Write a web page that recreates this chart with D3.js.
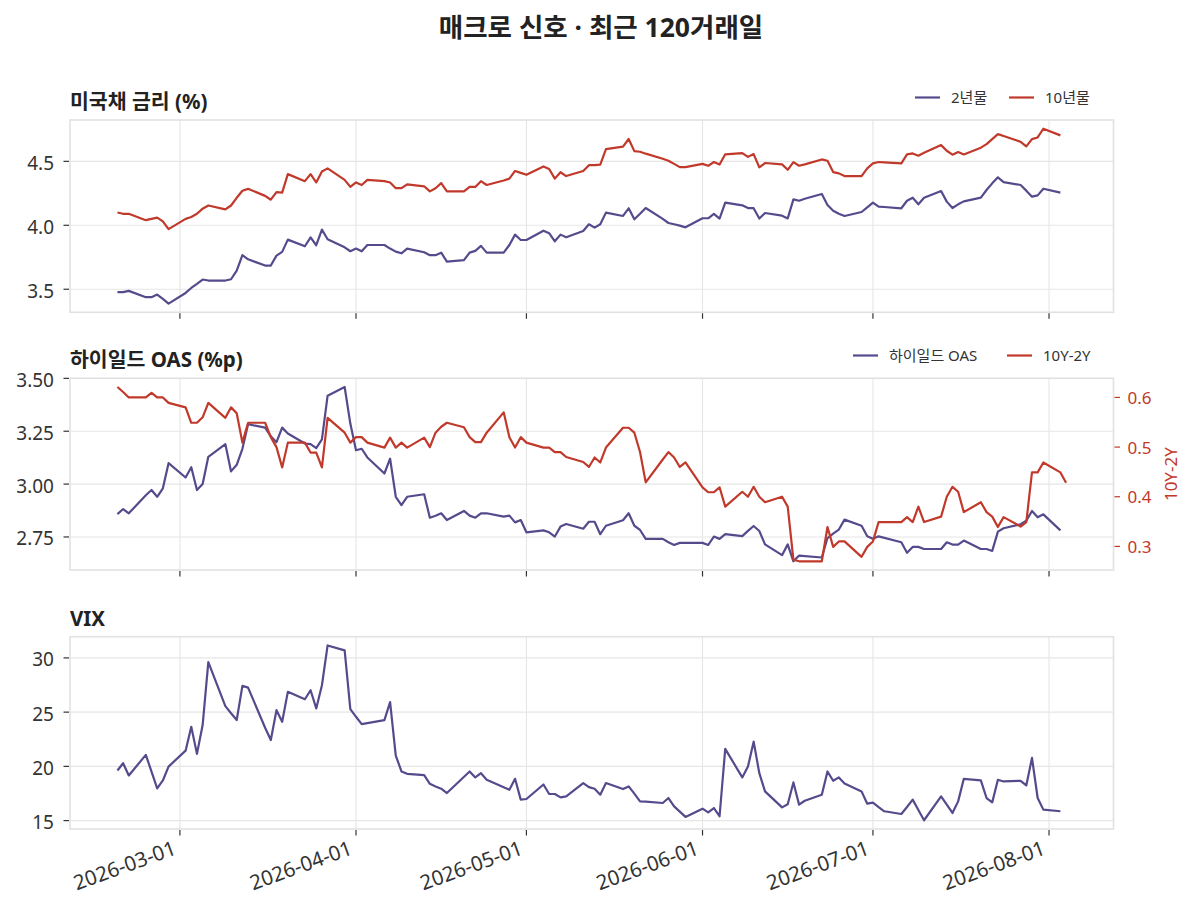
<!DOCTYPE html>
<html><head><meta charset="utf-8">
<script src="https://cdn.jsdelivr.net/npm/d3@7"></script>
<style>
body{margin:0;background:#fff}
svg{display:block}
text{font-family:"Noto Sans","Noto Sans CJK KR",sans-serif}
</style>
</head><body>
<svg id="c" width="1192" height="914"></svg>
<script>
// ---------- data ----------
const ust2y = [
["02-18",3.477],["02-19",3.477],["02-20",3.487],["02-23",3.438],["02-24",3.438],["02-25",3.458],["02-26",3.424],["02-27",3.388],
["03-02",3.471],["03-03",3.51],["03-04",3.542],["03-05",3.576],["03-06",3.568],["03-09",3.568],["03-10",3.578],["03-11",3.646],["03-12",3.766],["03-13",3.734],
["03-16",3.685],["03-17",3.685],["03-18",3.763],["03-19",3.792],["03-20",3.888],["03-23",3.836],["03-24",3.906],["03-25",3.844],["03-26",3.966],["03-27",3.891],
["03-30",3.828],["03-31",3.797],["04-01",3.818],["04-02",3.797],["04-03",3.846],["04-06",3.846],["04-07",3.818],["04-08",3.794],["04-09",3.781],["04-10",3.818],
["04-13",3.789],["04-14",3.766],["04-15",3.766],["04-16",3.786],["04-17",3.716],["04-20",3.727],["04-21",3.786],["04-22",3.80],["04-23",3.839],["04-24",3.786],
["04-27",3.786],["04-28",3.846],["04-29",3.927],["04-30",3.885],["05-01",3.885],["05-04",3.958],["05-05",3.938],["05-06",3.875],["05-07",3.927],["05-08",3.906],
["05-11",3.956],["05-12",4.008],["05-13",3.982],["05-14",4.008],["05-15",4.099],["05-18",4.073],["05-19",4.133],["05-20",4.047],["05-21",4.09],["05-22",4.135],
["05-25",4.05],["05-26",4.018],["05-27",4.008],["05-28",3.997],["05-29",3.984],["06-01",4.055],["06-02",4.055],["06-03",4.089],["06-04",4.052],["06-05",4.177],
["06-08",4.156],["06-09",4.135],["06-10",4.134],["06-11",4.053],["06-12",4.096],["06-15",4.075],["06-16",4.054],["06-17",4.203],["06-18",4.192],["06-19",4.208],
["06-22",4.245],["06-23",4.159],["06-24",4.114],["06-25",4.09],["06-26",4.073],["06-29",4.104],["06-30",4.14],["07-01",4.177],["07-02",4.146],["07-03",4.143],
["07-06",4.133],["07-07",4.192],["07-08",4.216],["07-09",4.164],["07-10",4.216],["07-13",4.268],["07-14",4.185],["07-15",4.135],["07-16",4.164],["07-17",4.187],
["07-20",4.216],["07-21",4.276],["07-22",4.328],["07-23",4.375],["07-24",4.338],["07-27",4.315],["07-28",4.271],["07-29",4.224],["07-30",4.234],["07-31",4.286],["08-03",4.255]
];
const ust10y = [
["02-18",4.10],["02-19",4.09],["02-20",4.09],["02-23",4.04],["02-24",4.05],["02-25",4.06],["02-26",4.03],["02-27",3.97],
["03-02",4.05],["03-03",4.065],["03-04",4.09],["03-05",4.13],["03-06",4.155],["03-09",4.125],["03-10",4.155],["03-11",4.215],["03-12",4.27],["03-13",4.285],
["03-16",4.23],["03-17",4.20],["03-18",4.26],["03-19",4.255],["03-20",4.40],["03-23",4.345],["03-24",4.40],["03-25",4.335],["03-26",4.42],["03-27",4.445],
["03-30",4.355],["03-31",4.30],["04-01",4.335],["04-02",4.315],["04-03",4.355],["04-06",4.345],["04-07",4.335],["04-08",4.29],["04-09",4.29],["04-10",4.32],
["04-13",4.305],["04-14",4.265],["04-15",4.29],["04-16",4.33],["04-17",4.265],["04-20",4.265],["04-21",4.30],["04-22",4.30],["04-23",4.345],["04-24",4.315],
["04-27",4.35],["04-28",4.365],["04-29",4.425],["04-30",4.41],["05-01",4.395],["05-04",4.46],["05-05",4.44],["05-06",4.365],["05-07",4.415],["05-08",4.385],
["05-11",4.425],["05-12",4.47],["05-13",4.47],["05-14",4.475],["05-15",4.595],["05-18",4.615],["05-19",4.675],["05-20",4.58],["05-21",4.575],["05-22",4.56],
["05-25",4.52],["05-26",4.505],["05-27",4.48],["05-28",4.455],["05-29",4.455],["06-01",4.48],["06-02",4.465],["06-03",4.495],["06-04",4.475],["06-05",4.555],
["06-08",4.565],["06-09",4.535],["06-10",4.557],["06-11",4.453],["06-12",4.487],["06-15",4.476],["06-16",4.434],["06-17",4.494],["06-18",4.466],["06-19",4.476],
["06-22",4.515],["06-23",4.505],["06-24",4.416],["06-25",4.406],["06-26",4.385],["06-29",4.385],["06-30",4.445],["07-01",4.484],["07-02",4.495],["07-03",4.492],
["07-06",4.484],["07-07",4.554],["07-08",4.562],["07-09",4.544],["07-10",4.567],["07-13",4.627],["07-14",4.583],["07-15",4.552],["07-16",4.573],["07-17",4.554],
["07-20",4.607],["07-21",4.635],["07-22",4.674],["07-23",4.713],["07-24",4.698],["07-27",4.653],["07-28",4.617],["07-29",4.674],["07-30",4.687],["07-31",4.755],["08-03",4.703]
];
const hyOAS = [
["02-18",2.858],["02-19",2.882],["02-20",2.862],["02-23",2.947],["02-24",2.972],["02-25",2.94],["02-26",2.98],["02-27",3.099],
["03-02",3.031],["03-03",3.08],["03-04",2.972],["03-05",3.0],["03-06",3.129],["03-09",3.189],["03-10",3.06],["03-11",3.091],["03-12",3.167],["03-13",3.283],
["03-16",3.267],["03-17",3.226],["03-18",3.198],["03-19",3.267],["03-20",3.239],["03-23",3.192],["03-24",3.189],["03-25",3.17],["03-26",3.211],["03-27",3.418],
["03-30",3.459],["03-31",3.286],["04-01",3.16],["04-02",3.167],["04-03",3.126],["04-06",3.05],["04-07",3.12],["04-08",2.94],["04-09",2.901],["04-10",2.94],
["04-13",2.952],["04-14",2.841],["04-15",2.85],["04-16",2.862],["04-17",2.83],["04-20",2.873],["04-21",2.851],["04-22",2.841],["04-23",2.862],["04-24",2.862],
["04-27",2.846],["04-28",2.851],["04-29",2.819],["04-30",2.83],["05-01",2.772],["05-04",2.781],["05-05",2.772],["05-06",2.752],["05-07",2.799],["05-08",2.811],
["05-11",2.789],["05-12",2.822],["05-13",2.822],["05-14",2.763],["05-15",2.803],["05-18",2.829],["05-19",2.862],["05-20",2.803],["05-21",2.783],["05-22",2.741],
["05-25",2.741],["05-26",2.725],["05-27",2.712],["05-28",2.722],["05-29",2.722],["06-01",2.722],["06-02",2.712],["06-03",2.752],["06-04",2.741],["06-05",2.763],
["06-08",2.754],["06-09",2.779],["06-10",2.802],["06-11",2.778],["06-12",2.715],["06-15",2.664],["06-16",2.715],["06-17",2.635],["06-18",2.662],
["06-22",2.653],["06-23",2.745],["06-24",2.766],["06-25",2.785],["06-26",2.832],["06-29",2.803],["06-30",2.753],["07-01",2.741],["07-02",2.753],
["07-06",2.725],["07-07",2.675],["07-08",2.703],["07-09",2.703],["07-10",2.693],["07-13",2.693],["07-14",2.725],["07-15",2.714],["07-16",2.714],["07-17",2.733],
["07-20",2.693],["07-21",2.693],["07-22",2.684],["07-23",2.775],["07-24",2.791],["07-27",2.81],["07-28",2.827],["07-29",2.873],["07-30",2.843],["07-31",2.857],["08-03",2.781]
];
const spread = [
["02-18",0.621],["02-19",0.611],["02-20",0.60],["02-23",0.60],["02-24",0.609],["02-25",0.60],["02-26",0.60],["02-27",0.589],
["03-02",0.58],["03-03",0.549],["03-04",0.549],["03-05",0.56],["03-06",0.589],["03-09",0.559],["03-10",0.58],["03-11",0.568],["03-12",0.509],["03-13",0.549],
["03-16",0.549],["03-17",0.52],["03-18",0.50],["03-19",0.459],["03-20",0.509],["03-23",0.509],["03-24",0.489],["03-25",0.489],["03-26",0.459],["03-27",0.559],
["03-30",0.529],["03-31",0.509],["04-01",0.52],["04-02",0.52],["04-03",0.509],["04-06",0.499],["04-07",0.519],["04-08",0.499],["04-09",0.509],["04-10",0.499],
["04-13",0.519],["04-14",0.50],["04-15",0.529],["04-16",0.541],["04-17",0.549],["04-20",0.54],["04-21",0.52],["04-22",0.51],["04-23",0.51],["04-24",0.529],
["04-27",0.57],["04-28",0.52],["04-29",0.499],["04-30",0.52],["05-01",0.509],["05-04",0.499],["05-05",0.499],["05-06",0.49],["05-07",0.49],["05-08",0.48],
["05-11",0.47],["05-12",0.46],["05-13",0.479],["05-14",0.469],["05-15",0.499],["05-18",0.539],["05-19",0.539],["05-20",0.529],["05-21",0.49],["05-22",0.429],
["05-25",0.475],["05-26",0.49],["05-27",0.479],["05-28",0.46],["05-29",0.469],["06-01",0.419],["06-02",0.409],["06-03",0.409],["06-04",0.419],["06-05",0.38],
["06-08",0.41],["06-09",0.40],["06-10",0.42],["06-11",0.40],["06-12",0.389],["06-15",0.40],["06-16",0.38],["06-17",0.273],["06-18",0.27],
["06-22",0.27],["06-23",0.339],["06-24",0.299],["06-25",0.31],["06-26",0.31],["06-29",0.279],["06-30",0.299],["07-01",0.31],["07-02",0.349],
["07-06",0.349],["07-07",0.359],["07-08",0.349],["07-09",0.38],["07-10",0.349],["07-13",0.36],["07-14",0.40],["07-15",0.42],["07-16",0.41],["07-17",0.369],
["07-20",0.389],["07-21",0.369],["07-22",0.36],["07-23",0.339],["07-24",0.359],["07-27",0.34],["07-28",0.349],["07-29",0.449],["07-30",0.449],["07-31",0.469],
["08-03",0.449],["08-04",0.428]
];
const vix = [
["02-18",19.62],["02-19",20.29],["02-20",19.16],["02-23",21.06],["02-25",17.97],["02-26",18.7],["02-27",19.98],
["03-02",21.45],["03-03",23.65],["03-04",21.15],["03-05",23.81],["03-06",29.62],["03-09",25.55],["03-10",24.9],["03-11",24.27],["03-12",27.42],["03-13",27.26],
["03-16",23.56],["03-17",22.43],["03-18",25.18],["03-19",24.11],["03-20",26.87],["03-23",26.19],["03-24",27.02],["03-25",25.34],["03-26",27.48],["03-27",31.15],
["03-30",30.69],["03-31",25.28],["04-01",24.57],["04-02",23.9],["04-06",24.27],["04-07",25.92],["04-08",21.0],["04-09",19.53],["04-10",19.31],
["04-13",19.19],["04-14",18.39],["04-15",18.15],["04-16",17.94],["04-17",17.54],["04-21",19.53],["04-22",18.98],["04-23",19.37],["04-24",18.76],
["04-28",17.84],["04-29",18.85],["04-30",16.93],["05-01",16.99],["05-04",18.33],["05-05",17.45],["05-06",17.45],["05-07",17.14],["05-08",17.23],
["05-11",18.46],["05-12",18.09],["05-13",17.94],["05-14",17.39],["05-15",18.46],["05-18",17.91],["05-19",18.15],["05-20",17.48],["05-21",16.77],["05-22",16.75],
["05-25",16.62],["05-26",17.08],["05-27",16.31],["05-28",15.83],["05-29",15.34],["06-01",16.1],["06-02",15.76],["06-03",16.16],["06-04",15.4],["06-05",21.61],
["06-08",18.98],["06-09",19.98],["06-10",22.28],["06-11",19.37],["06-12",17.69],["06-15",16.22],["06-16",16.5],["06-17",18.52],["06-18",16.47],["06-19",16.83],
["06-22",17.39],["06-23",19.53],["06-24",18.67],["06-25",18.98],["06-26",18.43],["06-29",17.69],["06-30",16.56],["07-01",16.65],["07-02",16.25],["07-03",15.86],
["07-06",15.61],["07-07",16.25],["07-08",16.93],["07-09",15.98],["07-10",15.03],["07-13",17.23],["07-14",16.47],["07-15",15.7],["07-16",16.77],["07-17",18.85],
["07-20",18.7],["07-21",17.08],["07-22",16.68],["07-23",18.76],["07-24",18.61],["07-27",18.67],["07-28",18.24],["07-29",20.78],["07-30",17.08],["07-31",16.01],["08-03",15.86]
];
const yTicks1 = [3.5, 4.0, 4.5];
const yTicks2 = [2.75, 3.00, 3.25, 3.50];
const yTicks2R = [0.3, 0.4, 0.5, 0.6];
const yTicks3 = [15, 20, 25, 30];
const titles = ["미국채 금리 (%)", "하이일드 OAS (%p)", "VIX"];
const mainTitle = "매크로 신호 · 최근 120거래일";
const legend1 = ["2년물", "10년물"];
const legend2 = ["하이일드 OAS", "10Y-2Y"];
const rightLabel = "10Y-2Y";

// ---------- styles ----------
const PURPLE = "#574a8c", RED = "#c0392b";
const GRID = "#e6e6e6", SPINE = "#e2e2e2", TXT = "#333";
const L = 70, R = 1113.5;
const panels = [{top:120,bottom:312.3},{top:378.3,bottom:570},{top:636.7,bottom:829}];

const svg = d3.select("#c");
const fmtDay = d3.timeParse("%Y-%m-%d");
const pd = s => fmtDay("2026-" + s);
const toPts = arr => arr.map(d => ({t: pd(d[0]), v: d[1]}));
const S2 = toPts(ust2y), S10 = toPts(ust10y), SO = toPts(hyOAS), SS = toPts(spread), SV = toPts(vix);

const allT = [...S2, ...S10, ...SO, ...SS, ...SV].map(d => d.t);
const [t0, t1] = d3.extent(allT);
const tp = (t1 - t0) * 0.05;
const x = d3.scaleTime().domain([new Date(+t0 - tp), new Date(+t1 + tp)]).range([L, R]);
const padExt = vals => { const [a, b] = d3.extent(vals); const p = (b - a) * 0.05; return [a - p, b + p]; };

const y1 = d3.scaleLinear().domain(padExt([...S2, ...S10].map(d => d.v))).range([panels[0].bottom, panels[0].top]);
const y2 = d3.scaleLinear().domain(padExt(SO.map(d => d.v))).range([panels[1].bottom, panels[1].top]);
const y2r = d3.scaleLinear().domain(padExt(SS.map(d => d.v))).range([panels[1].bottom, panels[1].top]);
const y3 = d3.scaleLinear().domain(padExt(SV.map(d => d.v))).range([panels[2].bottom, panels[2].top]);

const months = d3.timeMonth.range(d3.timeMonth.ceil(x.domain()[0]), x.domain()[1]);
const fmtX = d3.timeFormat("%Y-%m-%d");

// main title
svg.append("text").attr("x", 601).attr("y", 37).attr("text-anchor", "middle")
  .attr("font-size", 26.5).attr("font-weight", "bold").attr("fill", "#222").text(mainTitle);

function drawPanel(i, y, ticks, fmt, series, title) {
  const p = panels[i];
  const g = svg.append("g");
  g.selectAll(".gx").data(months).join("line")
    .attr("x1", d => x(d)).attr("x2", d => x(d)).attr("y1", p.top).attr("y2", p.bottom)
    .attr("stroke", GRID).attr("stroke-width", 1.1);
  g.selectAll(".gy").data(ticks).join("line")
    .attr("x1", L).attr("x2", R).attr("y1", d => y(d)).attr("y2", d => y(d))
    .attr("stroke", GRID).attr("stroke-width", 1.1);
  g.append("rect").attr("x", L).attr("y", p.top).attr("width", R - L).attr("height", p.bottom - p.top)
    .attr("fill", "none").attr("stroke", SPINE).attr("stroke-width", 1.6);
  series.forEach(s => {
    const line = d3.line().x(d => x(d.t)).y(d => s.y(d.v));
    g.append("path").datum(s.pts).attr("d", line).attr("fill", "none")
      .attr("stroke", s.color).attr("stroke-width", 2.2).attr("stroke-linejoin", "round");
  });
  g.selectAll(".ty").data(ticks).join("line")
    .attr("x1", L - 6.5).attr("x2", L - 1).attr("y1", d => y(d)).attr("y2", d => y(d))
    .attr("stroke", TXT).attr("stroke-width", 1.2);
  g.selectAll(".ly").data(ticks).join("text")
    .attr("x", 54).attr("y", d => y(d) + 8.5).attr("text-anchor", "end")
    .attr("font-size", 19).attr("fill", TXT).text(d => fmt(d));
  g.selectAll(".tx").data(months).join("line")
    .attr("x1", d => x(d)).attr("x2", d => x(d)).attr("y1", p.bottom + 1).attr("y2", p.bottom + 6.5)
    .attr("stroke", TXT).attr("stroke-width", 1.2);
  g.append("text").attr("x", L).attr("y", p.top - 11).attr("font-size", 20.5).attr("font-weight", "bold")
    .attr("fill", "#222").text(title);
  return g;
}

drawPanel(0, y1, yTicks1, d3.format(".1f"),
  [{pts: S2, y: y1, color: PURPLE}, {pts: S10, y: y1, color: RED}], titles[0]);
drawPanel(1, y2, yTicks2, d3.format(".2f"),
  [{pts: SO, y: y2, color: PURPLE}, {pts: SS, y: y2r, color: RED}], titles[1]);
drawPanel(2, y3, yTicks3, d3.format("d"),
  [{pts: SV, y: y3, color: PURPLE}], titles[2]);

// right axis (panel 2)
const gR = svg.append("g");
gR.selectAll("line").data(yTicks2R).join("line")
  .attr("x1", R + 1).attr("x2", R + 6.5).attr("y1", d => y2r(d)).attr("y2", d => y2r(d))
  .attr("stroke", RED).attr("stroke-width", 1.2);
gR.selectAll("text").data(yTicks2R).join("text")
  .attr("x", R + 14).attr("y", d => y2r(d) + 6.5).attr("font-size", 17).attr("fill", RED)
  .text(d => d3.format(".1f")(d));
gR.append("text").attr("transform", `translate(${1177},${(panels[1].top + panels[1].bottom) / 2}) rotate(-90)`)
  .attr("text-anchor", "middle").attr("font-size", 17).attr("fill", RED).text(rightLabel);

// x tick labels (bottom)
svg.append("g").selectAll("text").data(months).join("text")
  .attr("transform", d => `translate(${x(d) - 2.5},${panels[2].bottom + 25}) rotate(-20)`)
  .attr("text-anchor", "end").attr("font-size", 20.5).attr("fill", TXT).text(d => fmtX(d));

// legends
function legend(items, colors, xs, yy) {
  const g = svg.append("g");
  items.forEach((lab, k) => {
    g.append("line").attr("x1", xs[k]).attr("x2", xs[k] + 25).attr("y1", yy).attr("y2", yy)
      .attr("stroke", colors[k]).attr("stroke-width", 2.2);
    g.append("text").attr("x", xs[k] + 36).attr("y", yy + 5.5).attr("font-size", 15).attr("fill", TXT).text(lab);
  });
}
legend(legend1, [PURPLE, RED], [915, 1009], 97.5);
legend(legend2, [PURPLE, RED], [853, 1007], 355.5);
</script>
</body></html>
